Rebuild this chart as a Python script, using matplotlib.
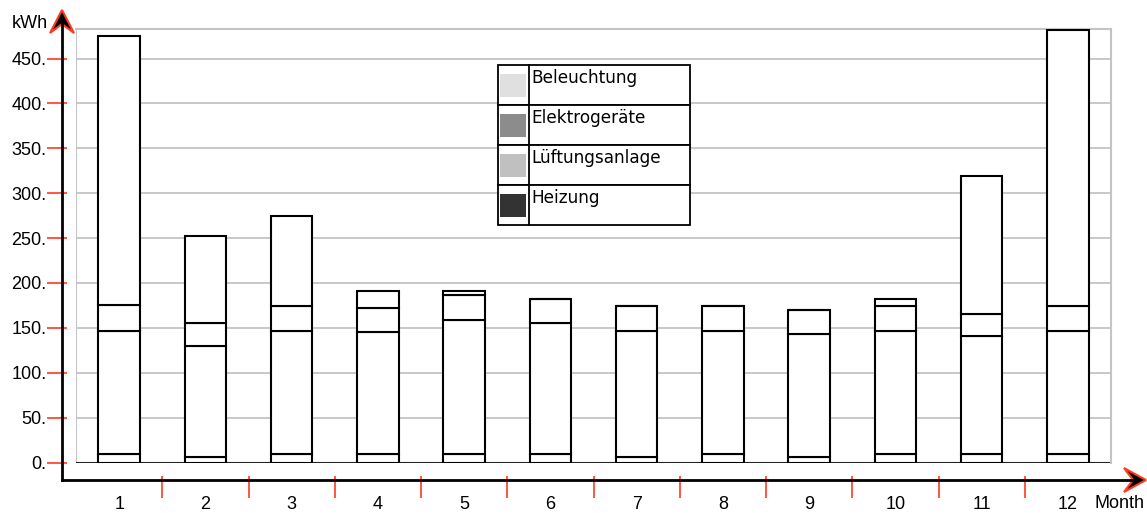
import numpy as np
import matplotlib
matplotlib.use("Agg")
import matplotlib.pyplot as plt
from matplotlib.patches import Polygon, Rectangle

# monthly energy use in kWh, stacked from bottom to top
months = list(range(1, 13))
beleuchtung = [9, 6, 9, 9, 9, 9, 6, 9, 6, 9, 9, 9]
elektrogeraete = [138, 124, 138, 136, 150, 146.5, 140.5, 137.5, 137, 137.5, 131.5, 137.5]
lueftung = [28, 25, 27.5, 27, 28, 26.5, 27.5, 27.5, 26.5, 28, 25.5, 28]
heizung = [300, 97, 100.5, 19, 4, 0, 0, 0, 0, 7.5, 153, 307.5]

series = [beleuchtung, elektrogeraete, lueftung, heizung]
legend_names = ["Beleuchtung", "Elektrogeräte", "Lüftungsanlage", "Heizung"]
legend_colors = ["#e0e0e0", "#8c8c8c", "#c0c0c0", "#333333"]
yticks = np.arange(0, 451, 50)

W, H = 1147, 513
fig = plt.figure(figsize=(W / 100, H / 100), dpi=100)
ax = fig.add_axes([76 / W, (H - 462.5) / H, (1111 - 76) / W, (462.5 - 29) / H])

# bars (white with black outlines, as in the original)
bottom = np.zeros(len(months))
for vals in series:
    ax.bar(months, vals, bottom=bottom, width=0.48, color="white",
           edgecolor="black", linewidth=1.5, zorder=3)
    bottom += np.array(vals)

ax.set_xlim(0.5, 12.5)
ax.set_ylim(0, 483)

# grid + frame
grey = "#c4c4c4"
ax.set_yticks(yticks)
ax.yaxis.grid(True, color=grey, linewidth=1.3, zorder=0)
ax.axvline(0.5, color=grey, linewidth=1.5, zorder=1)
ax.axhline(0, color="#222222", linewidth=1.5, zorder=2)
for s in ["top", "right"]:
    ax.spines[s].set_color(grey)
    ax.spines[s].set_linewidth(1.5)

ax.spines["left"].set_position(("outward", 14))
ax.spines["bottom"].set_position(("outward", 17.5))
ax.spines["left"].set_color("none")
ax.spines["bottom"].set_color("none")

ax.set_yticklabels([f"{v}." for v in yticks], fontfamily="Liberation Sans", fontsize=13)
ax.tick_params(axis="y", direction="inout", length=14.4, width=1.2, color="#ff3b1f", pad=0)

ax.set_xticks(months)
ax.set_xticklabels([str(m) for m in months], fontfamily="Liberation Sans", fontsize=13)
ax.set_xticks(np.arange(1.5, 12, 1), minor=True)
ax.tick_params(axis="x", which="major", length=0, pad=6.5)
ax.tick_params(axis="x", which="minor", direction="inout", length=16, width=1.2, color="#ff3b1f")

# overlay in pixel coordinates for the axis arrows and the legend box
ov = fig.add_axes([0, 0, 1, 1], zorder=5)
ov.set_xlim(0, W)
ov.set_ylim(H, 0)
ov.axis("off")
ov.patch.set_alpha(0)

ov.plot([62, 62], [480, 20], color="black", lw=2)
ov.plot([62, 1135], [480, 480], color="black", lw=2)
ov.add_patch(Polygon([(62, 10), (50, 33), (62, 24), (74, 33)], closed=True,
                     facecolor="black", edgecolor="#ff3b1f", lw=1.5))
ov.add_patch(Polygon([(1146, 480), (1124, 468), (1133, 480), (1124, 492)], closed=True,
                     facecolor="black", edgecolor="#ff3b1f", lw=1.5))
ov.text(30, 24, "kWh", ha="center", va="center", fontfamily="Liberation Sans", fontsize=13)
ov.text(1120, 503, "Month", ha="center", va="center", fontfamily="Liberation Sans", fontsize=13)

# legend drawn as a small table
lx0, lx1, lxm, ly0, rh = 498, 690, 529, 65, 40
for i, (name, col) in enumerate(zip(legend_names, legend_colors)):
    top = ly0 + i * rh
    ov.add_patch(Rectangle((lx0, top), lx1 - lx0, rh, facecolor="white",
                           edgecolor="black", lw=1.3))
    ov.add_patch(Rectangle((500, top + 9), 26, 23, facecolor=col, edgecolor="none"))
    ov.text(531, top + 4, name, ha="left", va="top", fontfamily="DejaVu Sans", fontsize=12.2)
ov.plot([lxm, lxm], [ly0, ly0 + 4 * rh], color="black", lw=1.3)

fig.savefig("out.png", dpi=100)
